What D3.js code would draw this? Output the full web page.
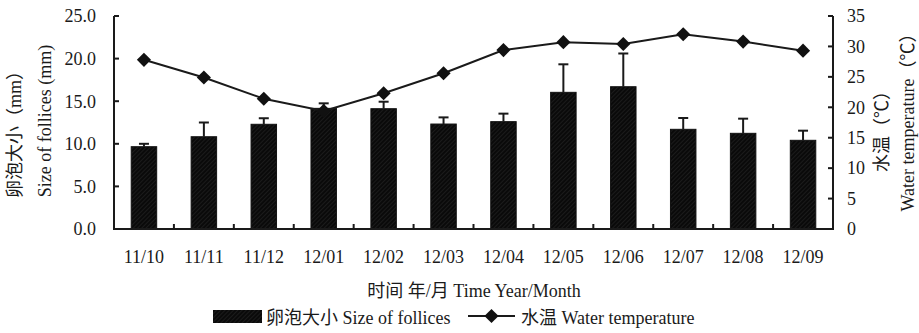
<!DOCTYPE html>
<html><head><meta charset="utf-8">
<script src="https://cdn.jsdelivr.net/npm/d3@7"></script>
<style>
html,body{margin:0;padding:0;background:#fff;}
svg{display:block;}
text{font-family:"Liberation Serif","Noto Sans CJK SC",serif;fill:#1a1a1a;}
</style></head>
<body>
<svg id="chart" width="919" height="333"></svg>
<script>
const categories = ["11/10","11/11","11/12","12/01","12/02","12/03","12/04","12/05","12/06","12/07","12/08","12/09"];
const follicleSize = [9.66,10.83,12.29,14.16,14.12,12.32,12.6,16.04,16.7,11.7,11.23,10.41];
const follicleErr  = [0.34,1.67,0.71,0.59,0.82,0.78,0.94,3.29,3.9,1.33,1.72,1.13];
const waterTemp    = [27.8,24.9,21.4,19.4,22.3,25.6,29.4,30.7,30.4,32.0,30.8,29.3];
const leftTicks  = [0,5,10,15,20,25];
const rightTicks = [0,5,10,15,20,25,30,35];

const svg = d3.select("#chart");
const L = 114, R = 833, T = 16, B = 229;
const ink = "#1a1a1a";

const defs = svg.append("defs");
const pat = defs.append("pattern").attr("id","hatch").attr("patternUnits","userSpaceOnUse")
  .attr("width",3).attr("height",3).attr("patternTransform","rotate(45)");
pat.append("rect").attr("width",3).attr("height",3).attr("fill","#0a0a0a");
pat.append("line").attr("x1",0).attr("y1",0).attr("x2",0).attr("y2",3).attr("stroke","#2c2c2c").attr("stroke-width",1);

const x = d3.scaleBand().domain(categories).range([L,R]).paddingInner(0.575).paddingOuter(0.2875);
const yL = d3.scaleLinear().domain([0,25]).range([B,T]);
const yR = d3.scaleLinear().domain([0,35]).range([B,T]);
const bw = x.bandwidth(), step = x.step();

// bars
svg.append("g").selectAll("rect").data(categories).join("rect")
  .attr("x",d=>x(d)).attr("width",bw)
  .attr("y",(d,i)=>yL(follicleSize[i])).attr("height",(d,i)=>B-yL(follicleSize[i]))
  .attr("fill","url(#hatch)").attr("stroke","#111").attr("stroke-width",1);

// error bars
const eg = svg.append("g").attr("stroke",ink).attr("stroke-width",2);
categories.forEach((c,i)=>{
  const cx = x(c)+bw/2;
  eg.append("line").attr("x1",cx).attr("x2",cx).attr("y1",yL(follicleSize[i])).attr("y2",yL(follicleSize[i]+follicleErr[i]));
  eg.append("line").attr("x1",cx-5).attr("x2",cx+5).attr("y1",yL(follicleSize[i]+follicleErr[i])).attr("y2",yL(follicleSize[i]+follicleErr[i]));
});

// line
const line = d3.line().x((d,i)=>x(categories[i])+bw/2).y(d=>yR(d));
svg.append("path").datum(waterTemp).attr("d",line).attr("fill","none").attr("stroke",ink).attr("stroke-width",2);
const diamond = d3.symbol().type(d3.symbolSquare).size(100);
svg.append("g").selectAll("path").data(waterTemp).join("path")
  .attr("d",diamond()).attr("fill","#111")
  .attr("transform",(d,i)=>`translate(${x(categories[i])+bw/2},${yR(d)}) rotate(45)`);

// axes
const ag = svg.append("g").attr("stroke",ink).attr("stroke-width",2).attr("fill","none");
ag.append("path").attr("d",`M${L},${T}V${B}H${R}V${T}`);
leftTicks.forEach(t=>ag.append("line").attr("x1",L).attr("x2",L+5).attr("y1",yL(t)).attr("y2",yL(t)));
rightTicks.forEach(t=>ag.append("line").attr("x1",R).attr("x2",R-5).attr("y1",yR(t)).attr("y2",yR(t)));
categories.slice(0,-1).forEach(c=>{
  const bx = x(c)+bw/2+step/2;
  ag.append("line").attr("x1",bx).attr("x2",bx).attr("y1",B).attr("y2",B-5);
});

// tick labels
const fs = 18;
svg.append("g").selectAll("text").data(leftTicks).join("text")
  .attr("x",96).attr("y",d=>yL(d)).attr("dy","0.35em").attr("text-anchor","end")
  .attr("font-size",fs).text(d=>d3.format(".1f")(d));
svg.append("g").selectAll("text").data(rightTicks).join("text")
  .attr("x",847).attr("y",d=>yR(d)).attr("dy","0.35em").attr("text-anchor","start")
  .attr("font-size",fs).text(d=>d);
svg.append("g").selectAll("text").data(categories).join("text")
  .attr("x",d=>x(d)+bw/2).attr("y",263).attr("text-anchor","middle")
  .attr("font-size",fs).text(d=>d);

// axis titles
svg.append("text").attr("x",474).attr("y",297).attr("text-anchor","middle").attr("font-size",fs)
  .text("时间 年/月 Time Year/Month");
svg.append("text").attr("transform","translate(21,130) rotate(-90)").attr("text-anchor","middle").attr("font-size",fs)
  .text("卵泡大小（mm）");
svg.append("text").attr("transform","translate(51,121) rotate(-90)").attr("text-anchor","middle").attr("font-size",fs)
  .text("Size of follices (mm)");
svg.append("text").attr("transform","translate(888,127) rotate(-90)").attr("text-anchor","middle").attr("font-size",fs)
  .text("水温（℃）");
svg.append("text").attr("transform","translate(914,118) rotate(-90)").attr("text-anchor","middle").attr("font-size",fs)
  .text("Water temperature（℃）");

// legend
const lg = svg.append("g");
lg.append("rect").attr("x",213).attr("y",310).attr("width",49).attr("height",13).attr("fill","url(#hatch)");
lg.append("text").attr("x",266).attr("y",324).attr("font-size",fs).text("卵泡大小 Size of follices");
lg.append("line").attr("x1",468).attr("x2",515).attr("y1",316).attr("y2",316).attr("stroke",ink).attr("stroke-width",2);
lg.append("path").attr("d",diamond()).attr("fill","#111").attr("transform","translate(491.5,316) rotate(45)");
lg.append("text").attr("x",521).attr("y",324).attr("font-size",fs).text("水温 Water temperature");
</script>
</body></html>
